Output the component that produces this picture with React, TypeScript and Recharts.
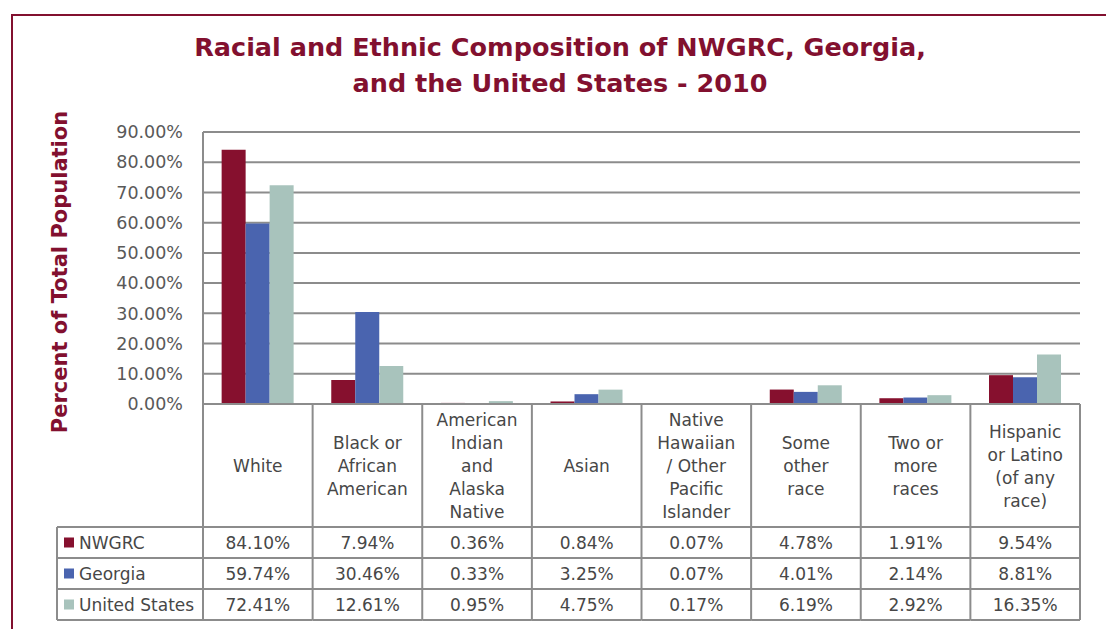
import { BarChart, Bar, XAxis, YAxis, CartesianGrid } from 'recharts';

const categories = [
  ['White'],
  ['Black or', 'African', 'American'],
  ['American', 'Indian', 'and', 'Alaska', 'Native'],
  ['Asian'],
  ['Native', 'Hawaiian', '/ Other', 'Pacific', 'Islander'],
  ['Some', 'other', 'race'],
  ['Two or', 'more', 'races'],
  ['Hispanic', 'or Latino', '(of any', 'race)'],
];
const nwgrc = [84.1, 7.94, 0.36, 0.84, 0.07, 4.78, 1.91, 9.54];
const georgia = [59.74, 30.46, 0.33, 3.25, 0.07, 4.01, 2.14, 8.81];
const unitedStates = [72.41, 12.61, 0.95, 4.75, 0.17, 6.19, 2.92, 16.35];
const yTicks = [0, 10, 20, 30, 40, 50, 60, 70, 80, 90];

const seriesList = [
  { key: 'nwgrc', name: 'NWGRC', color: '#86102E', values: nwgrc },
  { key: 'georgia', name: 'Georgia', color: '#4A64AF', values: georgia },
  { key: 'us', name: 'United States', color: '#A8C3BC', values: unitedStates },
];

const data = categories.map((lines, i) => ({
  name: lines.join(' '),
  nwgrc: nwgrc[i],
  georgia: georgia[i],
  us: unitedStates[i],
}));

const FONT = '"DejaVu Sans", sans-serif';
const MAROON = '#82102F';
const GRID = '#8C8C8C';
const TEXT = '#474747';

const PLOT_LEFT = 203;
const PLOT_RIGHT = 1080;
const PLOT_TOP = 132;
const PLOT_BOTTOM = 404;
const BAND = (PLOT_RIGHT - PLOT_LEFT) / categories.length;
const HEADER_MID = 466;
const LINE_H = 23;
const ROW_LINES = [527, 558, 589, 620];
const LEGEND_LEFT = 57;

const fmt = (v: number) => `${v.toFixed(2)}%`;

const ColumnTick = (props: any) => {
  const { x, index } = props;
  const lines = categories[index];
  const left = x - BAND / 2;
  const right = x + BAND / 2;
  const top = HEADER_MID - ((lines.length - 1) * LINE_H) / 2;
  return (
    <g>
      {index === 0 && (
        <g>
          <line x1={left} x2={left} y1={PLOT_BOTTOM} y2={ROW_LINES[3]} stroke={GRID} strokeWidth={2} />
          <line x1={LEGEND_LEFT} x2={LEGEND_LEFT} y1={ROW_LINES[0]} y2={ROW_LINES[3]} stroke={GRID} strokeWidth={2} />
          {ROW_LINES.map((ry) => (
            <line key={ry} x1={LEGEND_LEFT} x2={left} y1={ry} y2={ry} stroke={GRID} strokeWidth={2} />
          ))}
          {seriesList.map((s, r) => {
            const cy = (ROW_LINES[r] + ROW_LINES[r + 1]) / 2;
            return (
              <g key={s.key}>
                <rect x={64} y={cy - 5} width={10} height={10} fill={s.color} />
                <text x={79} y={cy} dy="0.36em" fontSize={17} fill={TEXT} fontFamily={FONT}>
                  {s.name}
                </text>
              </g>
            );
          })}
        </g>
      )}
      <line x1={right} x2={right} y1={PLOT_BOTTOM} y2={ROW_LINES[3]} stroke={GRID} strokeWidth={2} />
      {ROW_LINES.map((ry) => (
        <line key={ry} x1={left} x2={right} y1={ry} y2={ry} stroke={GRID} strokeWidth={2} />
      ))}
      {lines.map((ln, k) => (
        <text key={k} x={x} y={top + k * LINE_H} dy="0.36em" textAnchor="middle" fontSize={17} fill={TEXT} fontFamily={FONT}>
          {ln}
        </text>
      ))}
      {seriesList.map((s, r) => (
        <text
          key={s.key}
          x={x}
          y={(ROW_LINES[r] + ROW_LINES[r + 1]) / 2}
          dy="0.36em"
          textAnchor="middle"
          fontSize={17}
          fill={TEXT}
          fontFamily={FONT}
        >
          {fmt(s.values[index])}
        </text>
      ))}
    </g>
  );
};

const YLabel = (props: any) => {
  const { viewBox } = props;
  const cy = viewBox.y + viewBox.height / 2 + 4;
  return (
    <text
      x={60}
      y={cy}
      transform={`rotate(-90 60 ${cy})`}
      textAnchor="middle"
      dominantBaseline="central"
      fontSize={21}
      fontWeight="bold"
      fill={MAROON}
      fontFamily={FONT}
    >
      Percent of Total Population
    </text>
  );
};

export default function App() {
  return (
    <div style={{ position: 'absolute', left: 0, top: 0, width: 1106, height: 629, background: '#fff', overflow: 'hidden' }}>
      <div
        style={{
          position: 'absolute',
          left: 11,
          top: 14,
          width: 1200,
          height: 700,
          borderLeft: `2px solid ${MAROON}`,
          borderTop: `2px solid ${MAROON}`,
        }}
      />
      <div
        style={{
          position: 'absolute',
          left: 0,
          top: 29,
          width: 1120,
          textAlign: 'center',
          color: MAROON,
          fontFamily: FONT,
          fontWeight: 'bold',
          fontSize: 25.5,
          lineHeight: '36px',
        }}
      >
        Racial and Ethnic Composition of NWGRC, Georgia,
        <br />
        and the United States - 2010
      </div>
      <div style={{ position: 'absolute', left: 0, top: 0 }}>
        <BarChart
          width={1106}
          height={629}
          data={data}
          margin={{ top: PLOT_TOP, right: 1106 - PLOT_RIGHT, bottom: 0, left: PLOT_LEFT - 100 }}
          barCategoryGap="17%"
          barGap={0}
        >
          <CartesianGrid horizontal vertical={false} stroke={GRID} strokeWidth={2} />
          <XAxis
            dataKey="name"
            height={629 - PLOT_BOTTOM}
            interval={0}
            tickLine={false}
            axisLine={{ stroke: GRID, strokeWidth: 2 }}
            tick={<ColumnTick />}
          />
          <YAxis
            width={100}
            domain={[0, 90]}
            ticks={yTicks}
            tickFormatter={fmt}
            tickLine={false}
            tickSize={6}
            tickMargin={14}
            axisLine={{ stroke: GRID, strokeWidth: 2 }}
            tick={{ fontSize: 17.5, fill: '#595959', fontFamily: FONT }}
            label={<YLabel />}
          />
          {seriesList.map((s) => (
            <Bar key={s.key} dataKey={s.key} name={s.name} fill={s.color} isAnimationActive={false} />
          ))}
        </BarChart>
      </div>
    </div>
  );
}
